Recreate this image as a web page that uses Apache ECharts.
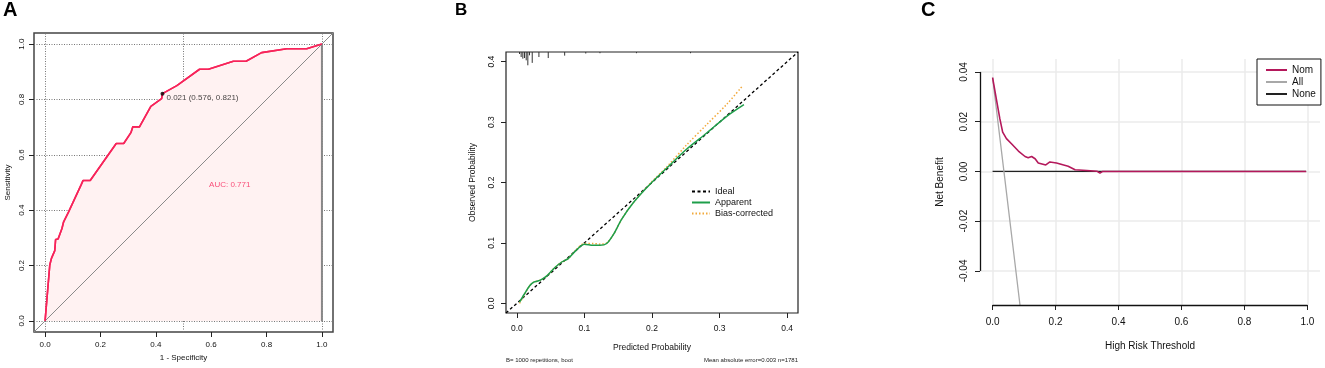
<!DOCTYPE html>
<html><head><meta charset="utf-8">
<script src="https://cdn.jsdelivr.net/npm/echarts@6/dist/echarts.min.js"></script>
<style>html,body{margin:0;padding:0;background:#fff}#c{width:1325px;height:368px}</style>
</head><body><div id="c"></div>
<script>
// ---------- Panel A : ROC ----------
const rocFpr = [0, 0.017, 0.023, 0.035, 0.038, 0.047, 0.061, 0.067, 0.085, 0.131, 0.137, 0.163, 0.257, 0.284, 0.310, 0.317, 0.341, 0.382, 0.421, 0.424, 0.476, 0.558, 0.590, 0.680, 0.726, 0.782, 0.873, 0.945, 1.0];
const rocTpr = [0, 0.202, 0.226, 0.254, 0.294, 0.296, 0.334, 0.358, 0.394, 0.493, 0.507, 0.507, 0.641, 0.641, 0.680, 0.701, 0.701, 0.775, 0.803, 0.821, 0.850, 0.909, 0.909, 0.938, 0.938, 0.969, 0.983, 0.983, 1.0];
const rocTicks = [0, 0.2, 0.4, 0.6, 0.8, 1.0];
const rocHGrid = [0, 0.2, 0.4, 0.6, 0.8, 1.0];
const rocVGrid = [0, 0.5, 1.0];
const rocLim = [-0.04, 1.04];
const cutoffPoint = [0.424, 0.821];
const cutoffText = '0.021 (0.576, 0.821)';
const aucPos = [0.667, 0.49];
const aucText = 'AUC: 0.771';

// ---------- Panel B : calibration ----------
const calPred = [0.004, 0.011, 0.019, 0.025, 0.034, 0.044, 0.056, 0.066, 0.076, 0.088, 0.100, 0.113, 0.123, 0.133, 0.143, 0.155, 0.172, 0.197, 0.222, 0.251, 0.281, 0.311, 0.336];
const calApparent = [0.002, 0.015, 0.029, 0.035, 0.038, 0.045, 0.059, 0.068, 0.074, 0.088, 0.098, 0.096, 0.096, 0.099, 0.114, 0.139, 0.166, 0.197, 0.224, 0.255, 0.282, 0.310, 0.329];
const calBiasPred = [0.004, 0.011, 0.019, 0.025, 0.034, 0.044, 0.056, 0.066, 0.076, 0.088, 0.100, 0.113, 0.123, 0.133, 0.143, 0.155, 0.172, 0.197, 0.222, 0.251, 0.281, 0.311, 0.334];
const calBias = [0.000, 0.014, 0.029, 0.035, 0.038, 0.045, 0.059, 0.068, 0.074, 0.089, 0.099, 0.099, 0.098, 0.100, 0.114, 0.139, 0.166, 0.198, 0.226, 0.262, 0.296, 0.330, 0.360];
const rugX = [0.004, 0.0064, 0.0089, 0.0114, 0.0139, 0.0163, 0.0188, 0.0228, 0.0327, 0.0465, 0.0708, 0.102, 0.123, 0.177, 0.257];
const rugLen = [0.0033, 0.0083, 0.011, 0.010, 0.0138, 0.022, 0.0055, 0.018, 0.0083, 0.010, 0.006, 0.0025, 0.002, 0.002, 0.002];
const calTicks = [0, 0.1, 0.2, 0.3, 0.4];
const calLim = [-0.016, 0.416];
const calNote1 = 'B= 1000 repetitions, boot';
const calNote2 = 'Mean absolute error=0.003 n=1781';

// ---------- Panel C : decision curve ----------
const dcaThr = [0.000, 0.0127, 0.023, 0.032, 0.044, 0.060, 0.082, 0.103, 0.113, 0.124, 0.135, 0.145, 0.169, 0.182, 0.203, 0.240, 0.262, 0.299, 0.331, 0.341, 0.350, 0.996];
const dcaNom = [0.0377, 0.0286, 0.0212, 0.0158, 0.0132, 0.0111, 0.0082, 0.0060, 0.0055, 0.0060, 0.0051, 0.0034, 0.0026, 0.0038, 0.0034, 0.0021, 0.0007, 0.0004, 0.0001, -0.0007, 0.0, 0.0];
const dcaAllThr = [0.0, 0.036, 0.087];
const dcaAll = [0.0377, 0.0, -0.0537];
const dcaNoneThr = [0.0, 0.996];
const dcaNone = [0.0, 0.0];
const dcaXTicks = [0, 0.2, 0.4, 0.6, 0.8, 1.0];
const dcaYTicks = [-0.04, -0.02, 0, 0.02, 0.04];
const dcaXLim = [-0.04, 1.04];
const dcaYLim = [-0.0537, 0.0452];

const FONT = 'Liberation Sans, Arial, sans-serif';
const zip = (a, b) => a.map((v, i) => [v, b[i]]);
const RED = '#F7245A', GREEN = '#1E9E4A', ORANGE = '#F2A93B', NOM = '#B4185B';

function valAxis(gi, lim, ticks, fmt, fs, margin, name, gap, rot, extra) {
  return Object.assign({
    gridIndex: gi, type: 'value', min: lim[0], max: lim[1],
    axisLine: {show: false, onZero: false},
    axisTick: {show: true, inside: false, customValues: ticks, length: 5, lineStyle: {color: '#222', width: 1}},
    axisLabel: {customValues: ticks, formatter: v => v.toFixed(fmt), fontSize: fs, margin: margin, color: '#111', fontFamily: FONT, rotate: rot},
    splitLine: {show: false},
    name: name, nameLocation: 'middle', nameGap: gap,
    nameTextStyle: {fontSize: fs, color: '#111', fontFamily: FONT}
  }, extra || {});
}

const option = {
  animation: false,
  textStyle: {fontFamily: FONT},
  grid: [
    {left: 34, top: 33, width: 299, height: 299, show: true, borderColor: '#444', borderWidth: 1.5, backgroundColor: 'transparent'},
    {left: 506, top: 52, width: 292, height: 261, show: true, borderColor: '#222', borderWidth: 1.2, backgroundColor: 'transparent'},
    {left: 980, top: 59, width: 340, height: 246}
  ],
  xAxis: [
    valAxis(0, rocLim, rocTicks, 1, 8, 9, '1 - Specificity', 22, 0),
    valAxis(1, calLim, calTicks, 1, 8.5, 11, 'Predicted Probability', 30, 0),
    valAxis(2, dcaXLim, dcaXTicks, 1, 10, 12, 'High Risk Threshold', 36, 0)
  ],
  yAxis: [
    valAxis(0, rocLim, rocTicks, 1, 8, 8, 'Sensitivity', 22, 90, {nameRotate: 90}),
    valAxis(1, calLim, calTicks, 1, 8.5, 10, 'Observed Probability', 29, 90, {nameRotate: 90}),
    valAxis(2, dcaYLim, dcaYTicks, 2, 10, 11, 'Net Benefit', 35, 90, {nameRotate: 90})
  ],
  legend: [
    {data: ['Ideal', 'Apparent', 'Bias-corrected'], orient: 'vertical', left: 691, top: 187,
     itemWidth: 18, itemHeight: 8, itemGap: 2, padding: 0, itemStyle: {opacity: 0},
     textStyle: {fontSize: 9, lineHeight: 9, color: '#111', fontFamily: FONT}},
    {data: ['Nom', 'All', 'None'], orient: 'vertical', left: 1257, top: 59,
     itemWidth: 21, itemHeight: 10, itemGap: 2, padding: [6, 5, 6, 8], itemStyle: {opacity: 0},
     borderColor: '#111', borderWidth: 1, backgroundColor: '#fff',
     textStyle: {fontSize: 10, lineHeight: 10, color: '#111', fontFamily: FONT}}
  ],
  graphic: [
    {type: 'text', left: 3, top: 0, style: {text: 'A', font: 'bold 20px Liberation Sans', fill: '#000'}},
    {type: 'text', left: 455, top: 2, style: {text: 'B', font: 'bold 17px Liberation Sans', fill: '#000'}},
    {type: 'text', left: 921, top: 0, style: {text: 'C', font: 'bold 20px Liberation Sans', fill: '#000'}},
    {type: 'text', left: 506, top: 357, style: {text: calNote1, font: '6px Liberation Sans', fill: '#222'}},
    {type: 'text', right: 527, top: 357, style: {text: calNote2, font: '6px Liberation Sans', fill: '#222'}}
  ],
  series: [
    // ----- A -----
    {type: 'line', xAxisIndex: 0, yAxisIndex: 0, data: [[rocTicks[0], rocTicks[0]]], symbol: 'none', silent: true, z: 1,
     lineStyle: {opacity: 0},
     markLine: {z: 1, silent: true, symbol: ['none', 'none'], label: {show: false}, animation: false,
       lineStyle: {color: '#777', type: [1, 1.5], width: 1},
       data: [...rocHGrid.map(v => ({yAxis: v})), ...rocVGrid.map(v => ({xAxis: v}))]}},
    {type: 'line', name: 'roc', xAxisIndex: 0, yAxisIndex: 0, data: zip(rocFpr, rocTpr), symbol: 'none', z: 2,
     lineStyle: {color: RED, width: 1.6}, areaStyle: {color: '#FFF2F2', opacity: 1, origin: 0}},
    {type: 'line', xAxisIndex: 0, yAxisIndex: 0, data: [[rocLim[0], rocLim[0]], [rocLim[1], rocLim[1]]], symbol: 'none', z: 3,
     lineStyle: {color: '#8a8a8a', width: 1}},
    {type: 'line', xAxisIndex: 0, yAxisIndex: 0, data: [[rocFpr[rocFpr.length - 1], 0], [rocFpr[rocFpr.length - 1], rocTpr[rocTpr.length - 1]]], symbol: 'none', z: 3,
     lineStyle: {color: '#888', width: 2}},
    {type: 'line', xAxisIndex: 0, yAxisIndex: 0, data: zip(rocFpr, rocTpr), symbol: 'none', z: 4,
     lineStyle: {color: RED, width: 1.6}},
    {type: 'scatter', xAxisIndex: 0, yAxisIndex: 0, data: [cutoffPoint], symbolSize: 4, z: 5,
     itemStyle: {color: '#000'},
     label: {show: true, position: 'right', distance: 2, offset: [0, 4], formatter: () => cutoffText, fontSize: 8, color: '#111', fontFamily: FONT}},
    {type: 'scatter', xAxisIndex: 0, yAxisIndex: 0, data: [aucPos], symbolSize: 0, z: 5,
     label: {show: true, position: 'inside', formatter: () => aucText, fontSize: 8, color: RED, fontFamily: FONT}},
    // ----- B -----
    {type: 'line', name: 'Ideal', xAxisIndex: 1, yAxisIndex: 1, data: [[calLim[0], calLim[0]], [calLim[1], calLim[1]]], symbol: 'none', z: 2,
     lineStyle: {color: '#000', width: 1.3, type: [3, 2.5]}, itemStyle: {color: '#000'}},
    {type: 'line', name: 'Apparent', xAxisIndex: 1, yAxisIndex: 1, data: zip(calPred, calApparent), symbol: 'none', smooth: 0.3, z: 4,
     lineStyle: {color: GREEN, width: 1.5}, itemStyle: {color: GREEN}},
    {type: 'line', name: 'Bias-corrected', xAxisIndex: 1, yAxisIndex: 1, data: zip(calBiasPred, calBias), symbol: 'none', smooth: 0.3, z: 3,
     lineStyle: {color: ORANGE, width: 1.5, type: [1.5, 2]}, itemStyle: {color: ORANGE}},
    {type: 'custom', xAxisIndex: 1, yAxisIndex: 1, data: zip(rugX, rugLen), silent: true, z: 5,
     renderItem: (params, api) => {
       const x = api.value(0), len = api.value(1);
       const p1 = api.coord([x, calLim[1]]);
       const p2 = api.coord([x, calLim[1] - len]);
       return {type: 'line', shape: {x1: p1[0], y1: p1[1], x2: p2[0], y2: p2[1]}, style: {stroke: '#333', lineWidth: 1}};
     }},
    // ----- C -----
    {type: 'line', xAxisIndex: 2, yAxisIndex: 2, data: [[dcaXTicks[0], dcaYTicks[2]]], symbol: 'none', silent: true, z: 1,
     lineStyle: {opacity: 0},
     markLine: {z: 1, silent: true, symbol: ['none', 'none'], label: {show: false}, animation: false,
       lineStyle: {color: '#EBEBEB', type: 'solid', width: 1.5},
       data: [...dcaYTicks.map(v => ({yAxis: v})), ...dcaXTicks.map(v => ({xAxis: v}))]}},
    {type: 'line', xAxisIndex: 2, yAxisIndex: 2, data: [[dcaXTicks[0], dcaYTicks[2]]], symbol: 'none', silent: true, z: 6,
     lineStyle: {opacity: 0},
     markLine: {z: 6, silent: true, symbol: ['none', 'none'], label: {show: false}, animation: false,
       lineStyle: {color: '#111', type: 'solid', width: 1.3},
       data: [
         [{coord: [dcaXTicks[0], dcaYLim[0]]}, {coord: [dcaXTicks[dcaXTicks.length - 1], dcaYLim[0]]}],
         [{coord: [dcaXLim[0], dcaYTicks[0]]}, {coord: [dcaXLim[0], dcaYTicks[dcaYTicks.length - 1]]}]
       ]}},
    {type: 'line', name: 'None', xAxisIndex: 2, yAxisIndex: 2, data: zip(dcaNoneThr, dcaNone), symbol: 'none', z: 2,
     lineStyle: {color: '#222', width: 1.3}, itemStyle: {color: '#222'}},
    {type: 'line', name: 'All', xAxisIndex: 2, yAxisIndex: 2, data: zip(dcaAllThr, dcaAll), symbol: 'none', z: 3,
     lineStyle: {color: '#A8A8A8', width: 1.3}, itemStyle: {color: '#A8A8A8'}},
    {type: 'line', name: 'Nom', xAxisIndex: 2, yAxisIndex: 2, data: zip(dcaThr, dcaNom), symbol: 'none', z: 4,
     lineStyle: {color: NOM, width: 1.6}, itemStyle: {color: NOM}}
  ]
};
const chart = echarts.init(document.getElementById('c'), null, {renderer: 'canvas'});
chart.setOption(option);
</script></body></html>
